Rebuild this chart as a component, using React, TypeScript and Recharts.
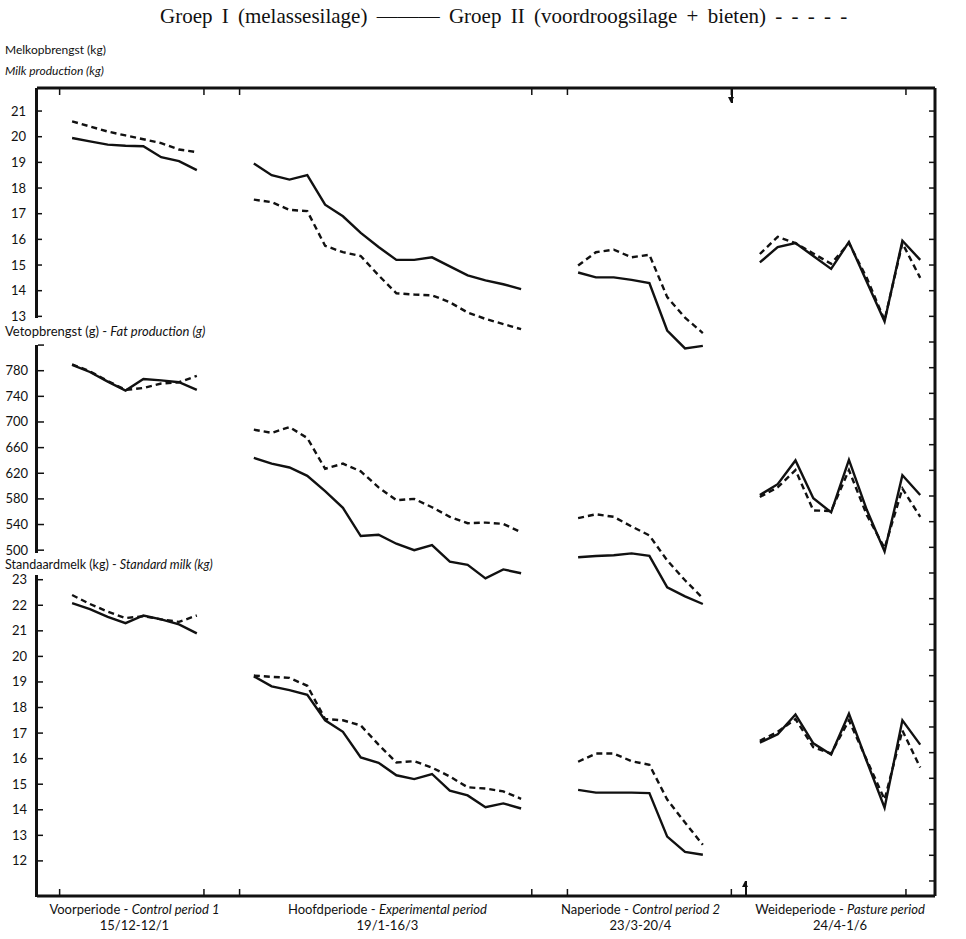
import React from 'react';
import { LineChart, Line, XAxis, YAxis } from 'recharts';

// periods along the x axis
const periodNl = ['Voorperiode', 'Hoofdperiode', 'Naperiode', 'Weideperiode'];
const periodEn = ['Control period 1', 'Experimental period', 'Control period 2', 'Pasture period'];
const periodDates = ['15/12-12/1', '19/1-16/3', '23/3-20/4', '24/4-1/6'];

// Melkopbrengst (kg), one list per period
const milkI = [
  [19.95, 19.82, 19.69, 19.65, 19.63, 19.2, 19.05, 18.7],
  [18.96, 18.5, 18.33, 18.5, 17.35, 16.9, 16.25, 15.7, 15.2, 15.2, 15.3, 14.95, 14.6, 14.4, 14.25, 14.06],
  [14.71, 14.52, 14.52, 14.42, 14.3, 12.45, 11.75, 11.85],
  [15.1, 15.7, 15.86, 15.35, 14.85, 15.9, 14.35, 12.8, 15.95, 15.2],
];
const milkII = [
  [20.6, 20.4, 20.2, 20.05, 19.9, 19.75, 19.5, 19.4],
  [17.55, 17.45, 17.15, 17.1, 15.75, 15.5, 15.35, 14.6, 13.9, 13.85, 13.82, 13.55, 13.15, 12.9, 12.7, 12.5],
  [14.98, 15.5, 15.6, 15.3, 15.4, 13.75, 12.95, 12.35],
  [15.43, 16.1, 15.85, 15.45, 15.05, 15.85, 14.5, 12.85, 15.85, 14.5],
];

// Vetopbrengst (g)
const fatI = [
  [789, 778, 763, 749, 767, 765, 762, 750],
  [644, 635, 629, 616, 592, 566, 522, 524, 510, 500, 508, 482, 477, 456, 470, 464],
  [489, 491, 492, 495, 491, 442, 428, 416],
  [586, 603, 640, 581, 559, 641, 563, 498, 617, 586],
];
const fatII = [
  [790, 779, 764, 750, 753, 760, 762, 772],
  [688, 683, 692, 675, 627, 635, 623, 598, 578, 580, 567, 552, 542, 543, 541, 528],
  [550, 556, 552, 537, 523, 484, 453, 425],
  [583, 598, 625, 562, 561, 625, 555, 503, 596, 552],
];

// Standaardmelk (kg)
const stdI = [
  [22.08, 21.85, 21.55, 21.3, 21.6, 21.45, 21.25, 20.9],
  [19.22, 18.83, 18.68, 18.5, 17.5, 17.05, 16.05, 15.84, 15.35, 15.2, 15.4, 14.75, 14.56, 14.1, 14.25, 14.05],
  [14.78, 14.67, 14.67, 14.67, 14.65, 12.95, 12.35, 12.24],
  [16.63, 16.95, 17.73, 16.6, 16.16, 17.76, 15.9, 14.08, 17.5, 16.55],
];
const stdII = [
  [22.4, 22.05, 21.75, 21.5, 21.57, 21.45, 21.35, 21.6],
  [19.25, 19.2, 19.16, 18.85, 17.55, 17.5, 17.3, 16.55, 15.85, 15.9, 15.65, 15.3, 14.88, 14.83, 14.72, 14.43],
  [15.88, 16.2, 16.2, 15.9, 15.76, 14.4, 13.5, 12.63],
  [16.7, 17.05, 17.55, 16.45, 16.2, 17.5, 15.95, 14.4, 17.1, 15.65],
];

const milkTicks = [13, 14, 15, 16, 17, 18, 19, 20, 21];
const fatTicks = [500, 540, 580, 620, 660, 700, 740, 780, 820];
const stdTicks = [12, 13, 14, 15, 16, 17, 18, 19, 20, 21, 22, 23];
const unlabeled = [820];

const GAP = 3.2; // empty space between periods, in sample steps

// build rows; a null row between periods breaks the lines
const rows: any[] = [];
const centers: number[] = [];
let start = 0;
milkI.forEach((vals, p) => {
  const n = vals.length;
  for (let k = 0; k < n; k++) {
    rows.push({
      x: start + k,
      milkI: milkI[p][k], milkII: milkII[p][k],
      fatI: fatI[p][k], fatII: fatII[p][k],
      stdI: stdI[p][k], stdII: stdII[p][k],
    });
  }
  centers.push(start + (n - 1) / 2);
  if (p < milkI.length - 1) {
    rows.push({ x: start + n - 1 + GAP / 2, milkI: null, milkII: null, fatI: null, fatII: null, stdI: null, stdII: null });
  }
  start += n - 1 + GAP;
});

const frameTicks = [-0.7, 7.4, 9.4, 25.8, 27.8, 37, 46.8];
const rightTicks = Array.from({ length: 31 }, (_, i) => i - 9);

const X_DOMAIN = [-1.97, 48.43];
const MILK_DOMAIN = [-9.586, 21.898];
const FONT = 'Lato, "Open Sans", sans-serif';
const INK = '#111';
const TICK_MARGIN = 10;

const LeftTick = (props: any) => {
  const { x, y, payload } = props;
  const ax = x + TICK_MARGIN;
  return (
    <g>
      <line x1={ax} x2={ax + 6} y1={y} y2={y} stroke={INK} strokeWidth={1.5} />
      {!unlabeled.includes(payload.value) && (
        <text x={x} y={y} dy={4.5} textAnchor="end" fontFamily={FONT} fontSize={13} fill={INK}>
          {payload.value}
        </text>
      )}
    </g>
  );
};

// tick marks on the frame carry no label
const NoLabel = () => <g />;

const PeriodTick = (props: any) => {
  const { x, y, index } = props;
  return (
    <g>
      <text x={x} y={y} dy={14} textAnchor="middle" fontFamily={FONT} fontSize={13} fill={INK}>
        {periodNl[index]} - <tspan fontStyle="italic">{periodEn[index]}</tspan>
      </text>
      <text x={x} y={y} dy={30} textAnchor="middle" fontFamily={FONT} fontSize={13} fill={INK}>
        {periodDates[index]}
      </text>
    </g>
  );
};

const label: React.CSSProperties = {
  position: 'absolute', left: 5, fontFamily: FONT, fontSize: 13, color: INK, whiteSpace: 'nowrap', lineHeight: '15px',
};
const leftBar = (top: number, bottom: number): React.CSSProperties => ({
  position: 'absolute', left: 35, width: 3, top, height: bottom - top, background: INK,
});

// small vertical arrow marks on the frame
const Arrow = ({ left, top, down }: { left: number; top: number; down: boolean }) => (
  <div style={{ position: 'absolute', left, top, width: 7, height: 14 }}>
    <div style={{ position: 'absolute', left: 3, top: 0, width: 1.5, height: 14, background: INK }} />
    <div
      style={{
        position: 'absolute', left: 0, top: down ? 8 : 0, width: 0, height: 0,
        borderLeft: '3.5px solid transparent', borderRight: '3.5px solid transparent',
        ...(down ? { borderTop: `6px solid ${INK}` } : { borderBottom: `6px solid ${INK}` }),
      }}
    />
  </div>
);

const App: React.FC = () => {
  const solid = { stroke: INK, strokeWidth: 2.4, dot: false, activeDot: false, isAnimationActive: false, connectNulls: false };
  const dashed = { ...solid, strokeDasharray: '6 4' };
  const frameLine = { stroke: INK, strokeWidth: 3 };
  const frameTick = { stroke: INK, strokeWidth: 1.5 };
  return (
    <div style={{ position: 'absolute', left: 0, top: 0, width: 966, height: 939, background: '#fff' }}>
      <div style={{ position: 'absolute', left: 160, top: 4, fontFamily: '"Liberation Serif", serif', fontSize: 21, wordSpacing: 4, color: INK, whiteSpace: 'nowrap' }}>
        Groep I (melassesilage) ——— Groep II (voordroogsilage + bieten) - - - - -
      </div>
      <div style={{ ...label, top: 42, fontSize: 12 }}>Melkopbrengst (kg)</div>
      <div style={{ ...label, top: 63, fontSize: 12, fontStyle: 'italic' }}>Milk production (kg)</div>
      <div style={{ ...label, top: 324 }}>
        Vetopbrengst (g) - <i>Fat production (g)</i>
      </div>
      <div style={{ ...label, top: 558, fontSize: 12.5, lineHeight: '14px' }}>
        Standaardmelk (kg) - <i>Standard milk (kg)</i>
      </div>
      <div style={leftBar(88, 318)} />
      <div style={leftBar(345, 553)} />
      <div style={leftBar(575, 897)} />
      <Arrow left={728} top={89} down />
      <Arrow left={742} top={881} down={false} />

      <LineChart
        width={966}
        height={939}
        data={rows}
        margin={{ top: 88, right: 31, bottom: 3, left: 34 }}
        style={{ position: 'absolute', left: 0, top: 0 }}
      >
        <XAxis
          xAxisId="frameTop"
          dataKey="x"
          orientation="top"
          type="number"
          domain={X_DOMAIN}
          allowDataOverflow
          ticks={frameTicks}
          interval={0}
          mirror
          tick={NoLabel}
          tickSize={7}
          tickLine={frameTick}
          axisLine={frameLine}
          height={1}
        />
        <XAxis
          xAxisId="frameBottom"
          dataKey="x"
          orientation="bottom"
          type="number"
          domain={X_DOMAIN}
          allowDataOverflow
          ticks={frameTicks}
          interval={0}
          mirror
          tick={NoLabel}
          tickSize={7}
          tickLine={frameTick}
          axisLine={frameLine}
          height={1}
        />
        <XAxis
          dataKey="x"
          type="number"
          domain={X_DOMAIN}
          allowDataOverflow
          ticks={centers}
          tick={(p: any) => <PeriodTick {...p} />}
          tickLine={false}
          axisLine={false}
          tickSize={0}
          tickMargin={4}
          height={40}
          interval={0}
        />
        <YAxis
          yAxisId="milk"
          type="number"
          domain={MILK_DOMAIN}
          allowDataOverflow
          ticks={milkTicks}
          interval={0}
          width={1}
          axisLine={false}
          tickLine={false}
          tickSize={0}
          tickMargin={TICK_MARGIN}
          tick={(p: any) => <LeftTick {...p} />}
        />
        <YAxis
          yAxisId="fat"
          type="number"
          domain={[-39.6, 1221.1]}
          allowDataOverflow
          ticks={fatTicks}
          interval={0}
          width={1}
          axisLine={false}
          tickLine={false}
          tickSize={0}
          tickMargin={TICK_MARGIN - 1}
          tick={(p: any) => <LeftTick {...p} />}
        />
        <YAxis
          yAxisId="std"
          type="number"
          domain={[10.627, 42.235]}
          allowDataOverflow
          ticks={stdTicks}
          interval={0}
          width={1}
          axisLine={false}
          tickLine={false}
          tickSize={0}
          tickMargin={TICK_MARGIN - 2}
          tick={(p: any) => <LeftTick {...p} />}
        />
        <YAxis
          yAxisId="frameRight"
          dataKey="milkI"
          orientation="right"
          type="number"
          domain={MILK_DOMAIN}
          allowDataOverflow
          ticks={rightTicks}
          interval={0}
          width={1}
          mirror
          tick={NoLabel}
          tickSize={6}
          tickLine={frameTick}
          axisLine={frameLine}
        />
        <Line xAxisId="frameTop" yAxisId="milk" dataKey="milkI" {...solid} />
        <Line xAxisId="frameTop" yAxisId="milk" dataKey="milkII" {...dashed} />
        <Line yAxisId="fat" dataKey="fatI" {...solid} />
        <Line yAxisId="fat" dataKey="fatII" {...dashed} />
        <Line xAxisId="frameBottom" yAxisId="std" dataKey="stdI" {...solid} />
        <Line xAxisId="frameBottom" yAxisId="std" dataKey="stdII" {...dashed} />
      </LineChart>
    </div>
  );
};

export default App;
